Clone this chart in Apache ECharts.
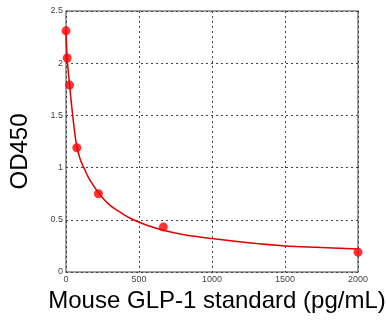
<!DOCTYPE html>
<html>
<head>
<meta charset="utf-8">
<script src="https://cdn.jsdelivr.net/npm/echarts@6/dist/echarts.min.js"></script>
<style>
  html, body { margin: 0; padding: 0; background: #fff; }
  #main { width: 387px; height: 324px; }
</style>
</head>
<body>
<div id="main"></div>
<script>
// standard points (pg/mL, OD450)
var stdConc = [0, 8.2, 24.7, 74.1, 222.2, 666.7, 2000];
var stdOD = [2.31, 2.05, 1.79, 1.19, 0.75, 0.43, 0.19];

// fitted curve
var curveConc = [0, 8.2, 24.7, 50, 74.1, 100, 125, 160, 222.2, 300, 380, 440, 550, 666.7, 800, 1000, 1250, 1500, 1750, 2000];
var curveOD = [2.31, 2.05, 1.79, 1.45, 1.2, 1.07, 0.99, 0.89, 0.76, 0.64, 0.565, 0.515, 0.45, 0.4, 0.36, 0.32, 0.28, 0.25, 0.235, 0.22];

var yTicks = [0, 0.5, 1, 1.5, 2, 2.5];

var chartDom = document.getElementById('main');
var myChart = echarts.init(chartDom, null, { renderer: 'canvas' });

var fontFam = 'Liberation Sans, Arial, sans-serif';
var labelFont = { color: '#444', fontSize: 9, fontFamily: fontFam };
var gridLine = { show: true, lineStyle: { color: '#444', type: [2, 3], width: 1 } };

var option = {
    backgroundColor: '#fff',
    animation: false,
    grid: {
        left: 66, right: 29, top: 11, bottom: 52,
        show: true,
        borderColor: '#808080',
        borderWidth: 1.5,
        containLabel: false,
        outerBoundsMode: 'none'
    },
    xAxis: {
        type: 'value',
        min: 0, max: 2000, interval: 500,
        name: 'Mouse GLP-1 standard (pg/mL)',
        nameLocation: 'middle',
        nameGap: 17,
        nameTextStyle: { fontSize: 24, color: '#000', fontFamily: fontFam, padding: [0, 0, 0, 10] },
        axisLine: { show: false },
        axisTick: { show: false },
        axisLabel: Object.assign({ margin: 3, formatter: function (v) { return String(v); } }, labelFont),
        splitLine: gridLine
    },
    yAxis: {
        type: 'value',
        min: 0, max: 2.5, interval: 0.5,
        name: 'OD450',
        nameLocation: 'middle',
        nameGap: 34,
        nameRotate: 90,
        nameTextStyle: { fontSize: 24, color: '#000', fontFamily: fontFam, padding: [0, 20, 0, 0] },
        axisLine: { show: false },
        axisTick: { show: false },
        axisLabel: Object.assign({
            margin: 3,
            formatter: function (v) { return yTicks.indexOf(v) >= 0 ? String(v) : ''; }
        }, labelFont),
        splitLine: gridLine
    },
    series: [
        {
            name: 'fit',
            type: 'line',
            data: curveConc.map(function (c, i) { return [c, curveOD[i]]; }),
            smooth: 0.4,
            showSymbol: false,
            symbol: 'none',
            lineStyle: { color: '#e00000', width: 1.5 },
            z: 2
        },
        {
            name: 'standard',
            type: 'scatter',
            data: stdConc.map(function (c, i) { return [c, stdOD[i]]; }),
            symbol: 'circle',
            symbolSize: 9,
            itemStyle: { color: '#ff0000' },
            z: 3
        }
    ]
};

option && myChart.setOption(option);
</script>
</body>
</html>
